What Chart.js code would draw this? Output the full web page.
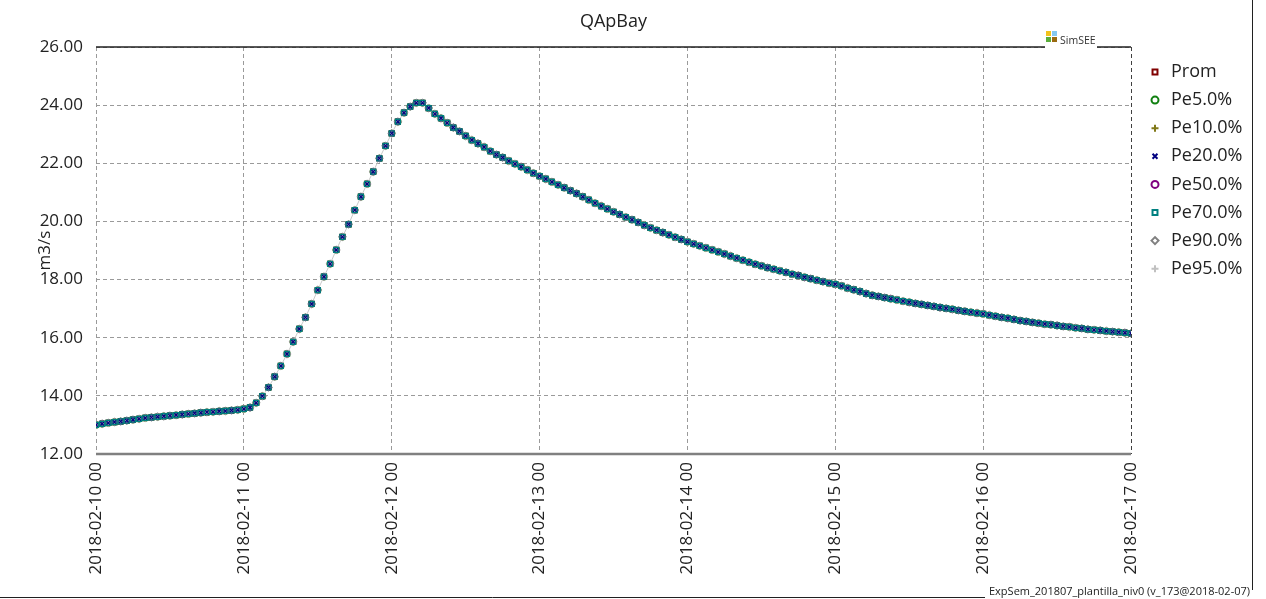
<!DOCTYPE html>
<html>
<head>
<meta charset="utf-8">
<title>QApBay</title>
<script src="https://cdn.jsdelivr.net/npm/chart.js@4.4.1/dist/chart.umd.min.js"></script>
<style>
    html, body { margin: 0; padding: 0; background: #ffffff; }
    #wrap { width: 1266px; height: 599px; position: relative; }
</style>
</head>
<body>
<div id="wrap"><canvas id="qChart" width="1266" height="599"></canvas></div>
<script>
// Day tick labels (one every 24 hours)
const dayLabels = ['2018-02-10 00', '2018-02-11 00', '2018-02-12 00', '2018-02-13 00',
    '2018-02-14 00', '2018-02-15 00', '2018-02-16 00', '2018-02-17 00'];

// Hourly flow (m3/s), 2018-02-10 00 .. 2018-02-17 00.
// All percentile curves sit on top of the mean, so they share these values.
const qProm = [
    13.00, 13.04, 13.07, 13.10, 13.12, 13.15, 13.18, 13.21, 13.24, 13.26, 13.28, 13.30, 13.32,
    13.34, 13.36, 13.38, 13.40, 13.42, 13.44, 13.45, 13.47, 13.48, 13.50, 13.52, 13.55, 13.60,
    13.76, 13.99, 14.29, 14.66, 15.03, 15.44, 15.86, 16.30, 16.70, 17.16, 17.64, 18.10, 18.54,
    19.02, 19.47, 19.90, 20.39, 20.85, 21.29, 21.71, 22.17, 22.60, 23.03, 23.43, 23.74, 23.95,
    24.08, 24.08,
    23.90, 23.70, 23.55, 23.39, 23.23, 23.10, 22.94, 22.80, 22.68, 22.56, 22.42, 22.30, 22.20,
    22.08, 21.98, 21.88, 21.77, 21.66,
    21.56, 21.46, 21.36, 21.26, 21.16, 21.06, 20.96, 20.85, 20.74, 20.63, 20.53, 20.43, 20.33,
    20.24, 20.15, 20.06, 19.97, 19.87, 19.78, 19.70, 19.62, 19.54, 19.46, 19.38,
    19.30, 19.23, 19.16, 19.09, 19.02, 18.95, 18.88, 18.81, 18.74, 18.67, 18.60, 18.53, 18.47,
    18.41, 18.36, 18.30, 18.25, 18.19, 18.14, 18.08, 18.03, 17.98, 17.93, 17.88,
    17.84, 17.78, 17.71, 17.65, 17.59, 17.52, 17.46, 17.42, 17.38, 17.34, 17.30, 17.26, 17.22,
    17.18, 17.15, 17.11, 17.08, 17.04, 17.01, 16.98, 16.94, 16.91, 16.88, 16.85,
    16.82, 16.78, 16.74, 16.70, 16.67, 16.63, 16.59, 16.56, 16.53, 16.50, 16.47, 16.45, 16.42,
    16.39, 16.37, 16.34, 16.32, 16.29, 16.27, 16.25, 16.23, 16.21, 16.19, 16.17, 16.15
];

const seriesNames = ['Prom', 'Pe5.0%', 'Pe10.0%', 'Pe20.0%', 'Pe50.0%', 'Pe70.0%', 'Pe90.0%', 'Pe95.0%'];
const seriesColors = ['#800000', '#108010', '#807818', '#000080', '#800080', '#008080', '#808080', '#c0c0c0'];
const seriesMarkers = ['rect', 'circle', 'cross', 'crossRot', 'circle', 'rect', 'rectRot', 'cross'];
const seriesRadius = [3.5, 3, 3.5, 3.5, 2.5, 3.5, 3.5, 3.5];
// stacking of the overlapping markers: lowest number ends up on top
const seriesOrder = [7, 6, 5, 1, 2, 0, 4, 3];

const yTicks = [12, 14, 16, 18, 20, 22, 24, 26];

const FONT = '"Open Sans", "Noto Sans", sans-serif';

document.addEventListener('DOMContentLoaded', function() {
    initializeChart();
});

function line(ctx, x1, y1, x2, y2) {
    ctx.beginPath();
    ctx.moveTo(x1, y1);
    ctx.lineTo(x2, y2);
    ctx.stroke();
}

// Title, borders, SimSEE logo, legend and footer
const decorPlugin = {
    id: 'decor',
    afterDraw(chart) {
        const ctx = chart.ctx;
        const a = chart.chartArea;
        ctx.save();

        // title centred over the plot area
        ctx.fillStyle = '#222222';
        ctx.font = '18px ' + FONT;
        ctx.textAlign = 'center';
        ctx.textBaseline = 'middle';
        ctx.fillText('QApBay', (a.left + a.right) / 2, 22);

        // right border (dashed, dark)
        ctx.strokeStyle = '#404040';
        ctx.lineWidth = 1;
        ctx.setLineDash([4, 3]);
        line(ctx, a.right + 0.5, a.top, a.right + 0.5, a.bottom);
        ctx.setLineDash([]);

        // bottom axis line (thick gray)
        ctx.strokeStyle = '#808080';
        ctx.lineWidth = 2.5;
        line(ctx, a.left, a.bottom, a.right, a.bottom);

        // top border (solid)
        ctx.strokeStyle = '#202020';
        ctx.lineWidth = 1.5;
        line(ctx, a.left, a.top, a.right, a.top);

        // SimSEE logo
        ctx.fillStyle = '#ffffff';
        ctx.fillRect(a.right - 86, a.top - 18, 52, 20);
        ctx.fillStyle = '#f2c21b'; ctx.fillRect(a.right - 85, a.top - 16, 5, 5);
        ctx.fillStyle = '#86c8f0'; ctx.fillRect(a.right - 79, a.top - 16, 5, 5);
        ctx.fillStyle = '#5aae3a'; ctx.fillRect(a.right - 85, a.top - 10, 5, 5);
        ctx.fillStyle = '#9a6a10'; ctx.fillRect(a.right - 79, a.top - 10, 5, 5);
        ctx.fillStyle = '#333333';
        ctx.font = '10.5px ' + FONT;
        ctx.textAlign = 'left';
        ctx.textBaseline = 'alphabetic';
        ctx.fillText('SimSEE', a.right - 71, a.top - 3);

        // legend
        const drawPoint = Chart.helpers && Chart.helpers.drawPoint;
        seriesNames.forEach(function(name, i) {
            const y = 72 + i * 28.1;
            ctx.strokeStyle = seriesColors[i];
            ctx.fillStyle = 'rgba(0,0,0,0)';
            ctx.lineWidth = 2;
            if (drawPoint) {
                drawPoint(ctx, { pointStyle: seriesMarkers[i], radius: 3.5, borderWidth: 2, rotation: 0 }, 1155, y);
            }
            ctx.fillStyle = '#222222';
            ctx.font = '18px ' + FONT;
            ctx.textAlign = 'left';
            ctx.textBaseline = 'middle';
            ctx.fillText(name, 1171, y);
        });

        // outer frame and footer
        ctx.strokeStyle = '#202020';
        ctx.lineWidth = 1;
        line(ctx, 1252.5, 0, 1252.5, 590);
        line(ctx, 0, 597.5, 985, 597.5);
        ctx.fillStyle = '#222222';
        ctx.font = '11px ' + FONT;
        ctx.textAlign = 'right';
        ctx.textBaseline = 'alphabetic';
        ctx.fillText('ExpSem_201807_plantilla_niv0 (v_173@2018-02-07)', 1250, 595);

        ctx.restore();
    }
};

function initializeChart() {
    const ctx = document.getElementById('qChart').getContext('2d');

    const datasets = seriesNames.map((name, i) => ({
        label: name,
        data: qProm.map((v, h) => ({ x: h, y: v })),
        order: seriesOrder[i],
        showLine: name === 'Pe95.0%',
        borderColor: '#c8c8c8',
        borderWidth: 1,
        pointStyle: seriesMarkers[i],
        pointRadius: seriesRadius[i],
        pointBorderWidth: 1.3,
        pointBorderColor: seriesColors[i],
        pointBackgroundColor: 'rgba(0,0,0,0)',
        pointHoverRadius: seriesRadius[i]
    }));

    new Chart(ctx, {
        type: 'line',
        data: { datasets: datasets },
        plugins: [decorPlugin],
        options: {
            responsive: false,
            animation: false,
            layout: {
                padding: { left: 0, right: 135, top: 47, bottom: 0 }
            },
            plugins: {
                legend: { display: false },
                tooltip: { enabled: false },
                title: { display: false }
            },
            scales: {
                x: {
                    type: 'linear',
                    min: 0,
                    max: 168,
                    afterFit: function(scale) { scale.height = 145; },
                    afterBuildTicks: function(scale) {
                        scale.ticks = dayLabels.map((d, i) => ({ value: i * 24 }));
                    },
                    grid: { color: '#9a9a9a', lineWidth: 1, drawTicks: false },
                    border: { display: false, dash: [4, 3] },
                    ticks: {
                        autoSkip: false,
                        minRotation: 90,
                        maxRotation: 90,
                        padding: 8,
                        color: '#222222',
                        font: { family: FONT, size: 17 },
                        callback: function(value) { return dayLabels[Math.round(value / 24)]; }
                    }
                },
                y: {
                    min: 12,
                    max: 26,
                    afterFit: function(scale) { scale.width = 96; },
                    afterBuildTicks: function(scale) {
                        scale.ticks = yTicks.map(v => ({ value: v }));
                    },
                    grid: { color: '#9a9a9a', lineWidth: 1, drawTicks: false },
                    border: { display: false, dash: [4, 3] },
                    title: {
                        display: true,
                        text: 'm3/s',
                        color: '#222222',
                        font: { family: FONT, size: 17 },
                        padding: { top: 35, bottom: 0 }
                    },
                    ticks: {
                        padding: 13,
                        color: '#222222',
                        font: { family: FONT, size: 17 },
                        callback: function(value) { return value.toFixed(2); }
                    }
                }
            }
        }
    });
}
</script>
</body>
</html>
